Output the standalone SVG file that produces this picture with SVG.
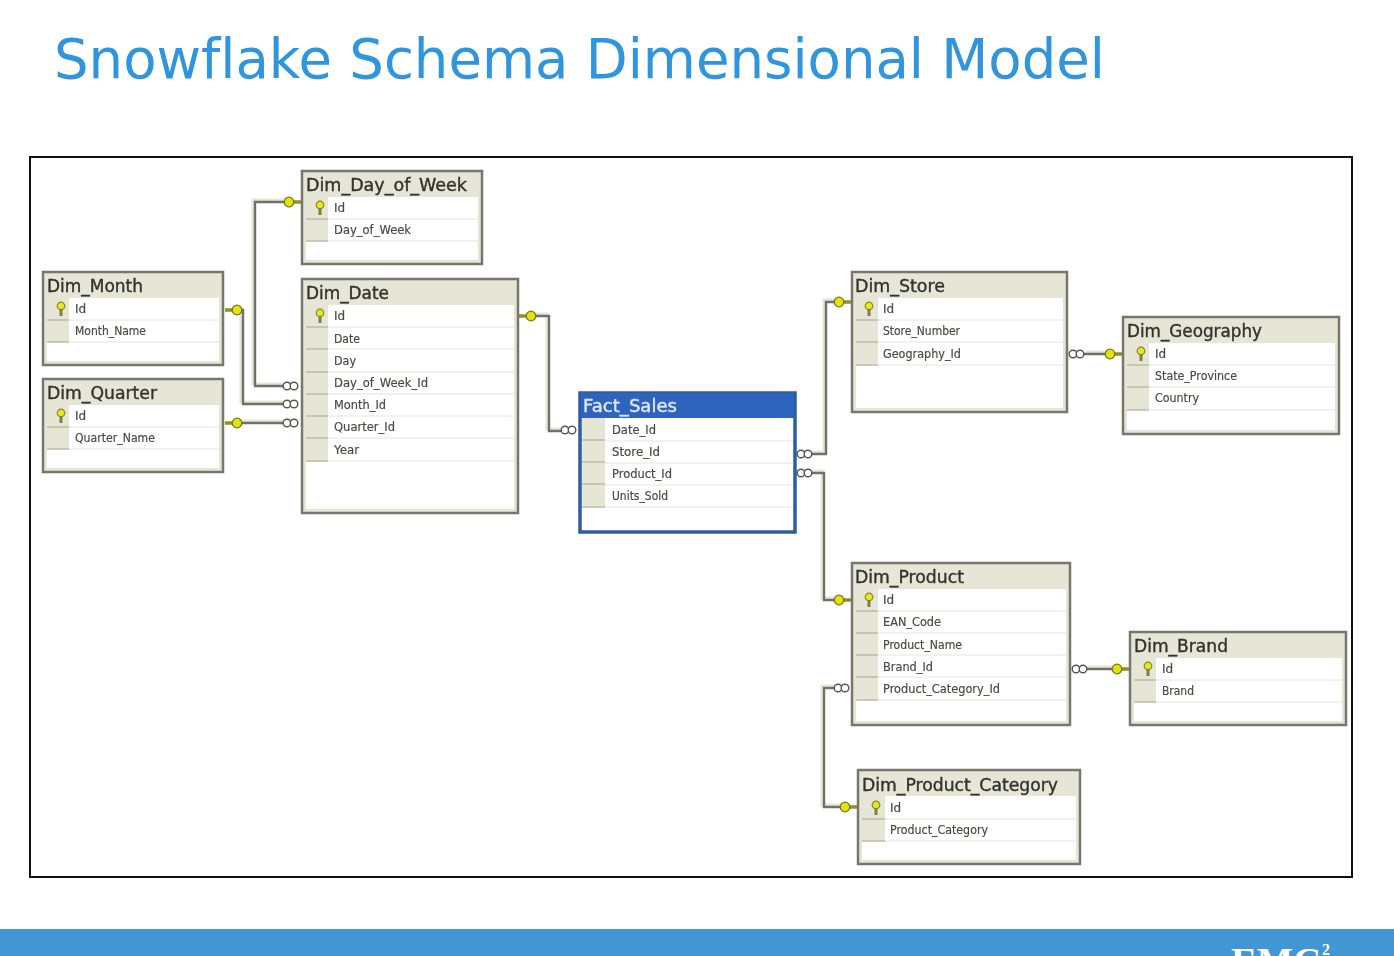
<svg xmlns="http://www.w3.org/2000/svg" width="1394" height="956" viewBox="0 0 1394 956">
<style>
text{font-family:"DejaVu Sans",sans-serif;font-variant-ligatures:none}
.slide{font-size:54.5px;fill:#2f95de}
.frame{fill:#fff;stroke:#111;stroke-width:2}
.box{fill:#e6e5d6;stroke:#77776f;stroke-width:2.5}
.inner{fill:#fff;stroke:none}
.gut{fill:#e6e5d6}
.sep{stroke:#e4e4dc;stroke-width:1}
.gsep{stroke:#bcbcaa;stroke-width:1.5}
.tt{font-size:17.5px;fill:#33332e;stroke:#33332e;stroke-width:.4}
.f{font-size:12px;fill:#4a4a48;stroke:#4a4a48;stroke-width:.2}
.halo{fill:none;stroke:#e6e6da;stroke-width:3}
.line{fill:none;stroke:#6f6f69;stroke-width:2.4}
.ring{fill:#fff;stroke:#55554f;stroke-width:1.4}
.disc{fill:#e2e210;stroke:#77771a;stroke-width:1.3}
.bar{stroke:#8f8f22;stroke-width:3.5}
.hdr{fill:#2e63be}
.ft{fill:#fff;font-family:"Liberation Serif",serif;font-weight:700}
</style>
<defs>
<filter id="soft" x="-2%" y="-2%" width="104%" height="104%"><feGaussianBlur stdDeviation="0.45"/></filter>
<g id="key"><circle cx="0" cy="-2" r="3.8" fill="#e6e620" stroke="#8a8a20" stroke-width="1.2"/><rect x="-1.5" y="1" width="3" height="7" fill="#7f7f40"/></g>
<g id="oneL"><line x1="0" y1="0" x2="-12" y2="0" class="bar"/><circle cx="-12" cy="0" r="4.8" class="disc"/></g>
<g id="oneR"><line x1="0" y1="0" x2="12" y2="0" class="bar"/><circle cx="12" cy="0" r="4.8" class="disc"/></g>
<g id="many"><circle cx="4" cy="0" r="3.8" class="ring"/><circle cx="11" cy="0" r="3.8" class="ring"/></g>
</defs>
<rect width="1394" height="956" fill="#fff"/>
<text class="slide" x="54" y="78" textLength="1051" lengthAdjust="spacingAndGlyphs">Snowflake Schema Dimensional Model</text>
<rect class="frame" x="30" y="157" width="1322" height="720"/>
<g filter="url(#soft)">
<g id="connectors">
<path class="halo" d="M283 384H253V200H289M283 402H241V308M283 421H236M561 429H547V314H530M812 452H824V300H838M812 471H822V598H838M1086 352H1106M1087 667H1114M836 686H822V805H844"/>
<path class="line" d="M283 386H255V202H290M283 404H243V310H236M283 423H236M561 431H549V316H532M812 454H826V302H838M812 473H824V600H838M1084 354H1108M1087 669H1116M838 688H824V807H844"/>
<use href="#oneL" x="301" y="202"/>
<use href="#oneR" x="225" y="310"/><use href="#oneR" x="225" y="423"/><use href="#oneR" x="519" y="316"/>
<use href="#oneL" x="851" y="302"/><use href="#oneL" x="851" y="600"/><use href="#oneL" x="1122" y="354"/><use href="#oneL" x="1129" y="669"/><use href="#oneL" x="857" y="807"/>
<use href="#many" x="283" y="386"/><use href="#many" x="283" y="404"/><use href="#many" x="283" y="423"/><use href="#many" x="561" y="430"/>
<use href="#many" x="797" y="454"/><use href="#many" x="797" y="473"/><use href="#many" x="1069" y="354"/><use href="#many" x="1072" y="669"/><use href="#many" x="834" y="688"/>
</g>
<g id="Dim_Day_of_Week">
<rect class="box" x="302" y="171" width="180" height="93"/><rect class="inner" x="306" y="197" width="172" height="63"/><rect class="gut" x="306" y="197" width="22" height="44"/>
<path class="sep" d="M328 219H478M328 241H478"/><path class="gsep" d="M306 219H328M306 241H328"/>
<use href="#key" x="320" y="207"/>
<text class="tt" x="306" y="191" textLength="161" lengthAdjust="spacingAndGlyphs">Dim_Day_of_Week</text>
<text class="f" x="334" y="212">Id</text><text class="f" x="334" y="234" textLength="77" lengthAdjust="spacingAndGlyphs">Day_of_Week</text>
</g>
<g id="Dim_Month">
<rect class="box" x="43" y="272" width="180" height="93"/><rect class="inner" x="47" y="298" width="172" height="63"/><rect class="gut" x="47" y="298" width="22" height="44"/>
<path class="sep" d="M69 320H219M69 342H219"/><path class="gsep" d="M47 320H69M47 342H69"/>
<use href="#key" x="61" y="308"/>
<text class="tt" x="47" y="292" textLength="96" lengthAdjust="spacingAndGlyphs">Dim_Month</text>
<text class="f" x="75" y="313">Id</text><text class="f" x="75" y="335" textLength="71" lengthAdjust="spacingAndGlyphs">Month_Name</text>
</g>
<g id="Dim_Quarter">
<rect class="box" x="43" y="379" width="180" height="93"/><rect class="inner" x="47" y="405" width="172" height="63"/><rect class="gut" x="47" y="405" width="22" height="44"/>
<path class="sep" d="M69 427H219M69 449H219"/><path class="gsep" d="M47 427H69M47 449H69"/>
<use href="#key" x="61" y="415"/>
<text class="tt" x="47" y="399" textLength="110" lengthAdjust="spacingAndGlyphs">Dim_Quarter</text>
<text class="f" x="75" y="420">Id</text><text class="f" x="75" y="442" textLength="80" lengthAdjust="spacingAndGlyphs">Quarter_Name</text>
</g>
<g id="Dim_Date">
<rect class="box" x="302" y="279" width="216" height="234"/><rect class="inner" x="306" y="305" width="208" height="204"/><rect class="gut" x="306" y="305" width="22" height="156"/>
<path class="sep" d="M328 327H514M328 349H514M328 372H514M328 394H514M328 416H514M328 438H514M328 461H514"/><path class="gsep" d="M306 327H328M306 349H328M306 372H328M306 394H328M306 416H328M306 438H328M306 461H328"/>
<use href="#key" x="320" y="315"/>
<text class="tt" x="306" y="299" textLength="83" lengthAdjust="spacingAndGlyphs">Dim_Date</text>
<text class="f" x="334" y="320">Id</text><text class="f" x="334" y="343" textLength="26" lengthAdjust="spacingAndGlyphs">Date</text><text class="f" x="334" y="365" textLength="22" lengthAdjust="spacingAndGlyphs">Day</text><text class="f" x="334" y="387" textLength="94" lengthAdjust="spacingAndGlyphs">Day_of_Week_Id</text><text class="f" x="334" y="409" textLength="52" lengthAdjust="spacingAndGlyphs">Month_Id</text><text class="f" x="334" y="431" textLength="61" lengthAdjust="spacingAndGlyphs">Quarter_Id</text><text class="f" x="334" y="454" textLength="25" lengthAdjust="spacingAndGlyphs">Year</text>
</g>
<g id="Fact_Sales">
<rect x="580" y="393" width="215" height="139" fill="#fff" stroke="#2e5c9e" stroke-width="3.5"/><rect class="hdr" x="581" y="393" width="213" height="25"/><rect class="gut" x="582" y="418" width="23" height="89"/>
<path class="sep" d="M605 441H793M605 463H793M605 485H793M605 507H793"/><path class="gsep" d="M582 440H605M582 462H605M582 484H605M582 507H605"/>
<text class="tt" style="fill:#dce9fb;stroke:#dce9fb" x="583" y="412" textLength="94" lengthAdjust="spacingAndGlyphs">Fact_Sales</text>
<text class="f" x="612" y="434" textLength="44" lengthAdjust="spacingAndGlyphs">Date_Id</text><text class="f" x="612" y="456" textLength="48" lengthAdjust="spacingAndGlyphs">Store_Id</text><text class="f" x="612" y="478" textLength="60" lengthAdjust="spacingAndGlyphs">Product_Id</text><text class="f" x="612" y="500" textLength="56" lengthAdjust="spacingAndGlyphs">Units_Sold</text>
</g>
<g id="Dim_Store">
<rect class="box" x="852" y="272" width="215" height="140"/><rect class="inner" x="856" y="298" width="207" height="110"/><rect class="gut" x="856" y="298" width="22" height="67"/>
<path class="sep" d="M878 320H1063M878 342H1063M878 365H1063"/><path class="gsep" d="M856 320H878M856 342H878M856 365H878"/>
<use href="#key" x="869" y="308"/>
<text class="tt" x="855" y="292" textLength="90" lengthAdjust="spacingAndGlyphs">Dim_Store</text>
<text class="f" x="883" y="313">Id</text><text class="f" x="883" y="335" textLength="77" lengthAdjust="spacingAndGlyphs">Store_Number</text><text class="f" x="883" y="358" textLength="78" lengthAdjust="spacingAndGlyphs">Geography_Id</text>
</g>
<g id="Dim_Geography">
<rect class="box" x="1123" y="317" width="216" height="117"/><rect class="inner" x="1127" y="343" width="208" height="87"/><rect class="gut" x="1127" y="343" width="22" height="67"/>
<path class="sep" d="M1149 365H1335M1149 387H1335M1149 410H1335"/><path class="gsep" d="M1127 365H1149M1127 387H1149M1127 410H1149"/>
<use href="#key" x="1141" y="353"/>
<text class="tt" x="1127" y="337" textLength="135" lengthAdjust="spacingAndGlyphs">Dim_Geography</text>
<text class="f" x="1155" y="358">Id</text><text class="f" x="1155" y="380" textLength="82" lengthAdjust="spacingAndGlyphs">State_Province</text><text class="f" x="1155" y="402" textLength="44" lengthAdjust="spacingAndGlyphs">Country</text>
</g>
<g id="Dim_Product">
<rect class="box" x="852" y="563" width="218" height="162"/><rect class="inner" x="856" y="589" width="210" height="132"/><rect class="gut" x="856" y="589" width="22" height="111"/>
<path class="sep" d="M878 611H1066M878 633H1066M878 655H1066M878 677H1066M878 700H1066"/><path class="gsep" d="M856 611H878M856 633H878M856 655H878M856 677H878M856 700H878"/>
<use href="#key" x="869" y="599"/>
<text class="tt" x="855" y="583" textLength="109" lengthAdjust="spacingAndGlyphs">Dim_Product</text>
<text class="f" x="883" y="604">Id</text><text class="f" x="883" y="626" textLength="58" lengthAdjust="spacingAndGlyphs">EAN_Code</text><text class="f" x="883" y="649" textLength="79" lengthAdjust="spacingAndGlyphs">Product_Name</text><text class="f" x="883" y="671" textLength="50" lengthAdjust="spacingAndGlyphs">Brand_Id</text><text class="f" x="883" y="693" textLength="117" lengthAdjust="spacingAndGlyphs">Product_Category_Id</text>
</g>
<g id="Dim_Brand">
<rect class="box" x="1130" y="632" width="216" height="93"/><rect class="inner" x="1134" y="658" width="208" height="63"/><rect class="gut" x="1134" y="658" width="22" height="44"/>
<path class="sep" d="M1156 680H1342M1156 702H1342"/><path class="gsep" d="M1134 680H1156M1134 702H1156"/>
<use href="#key" x="1148" y="668"/>
<text class="tt" x="1134" y="652" textLength="94" lengthAdjust="spacingAndGlyphs">Dim_Brand</text>
<text class="f" x="1162" y="673">Id</text><text class="f" x="1162" y="695" textLength="32" lengthAdjust="spacingAndGlyphs">Brand</text>
</g>
<g id="Dim_Product_Category">
<rect class="box" x="858" y="770" width="222" height="94"/><rect class="inner" x="862" y="796" width="214" height="64"/><rect class="gut" x="862" y="796" width="23" height="45"/>
<path class="sep" d="M885 819H1076M885 841H1076"/><path class="gsep" d="M862 819H885M862 841H885"/>
<use href="#key" x="876" y="807"/>
<text class="tt" x="862" y="791" textLength="196" lengthAdjust="spacingAndGlyphs">Dim_Product_Category</text>
<text class="f" x="890" y="812">Id</text><text class="f" x="890" y="834" textLength="98" lengthAdjust="spacingAndGlyphs">Product_Category</text>
</g>
</g>
<rect x="0" y="929" width="1394" height="27" fill="#4196d4"/>
<text class="ft" x="1231" y="973" font-size="36" textLength="90" lengthAdjust="spacingAndGlyphs">EMC</text>
<text class="ft" x="1322" y="955" font-size="16">2</text>
</svg>
